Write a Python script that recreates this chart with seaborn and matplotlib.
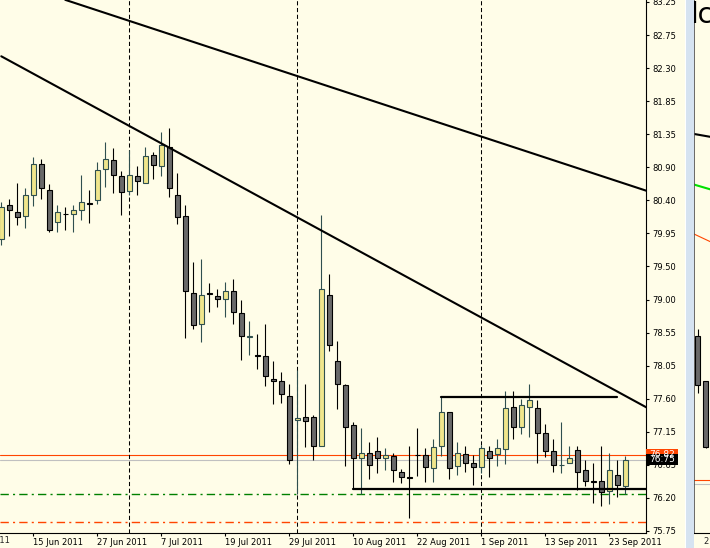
import numpy as np
import pandas as pd
import matplotlib
matplotlib.use("Agg")
import matplotlib.pyplot as plt
import matplotlib.patches as mpatches
import matplotlib.transforms as mtransforms
import seaborn as sns

# daily bars, weekdays 9 Jun 2011 .. 27 Sep 2011
start = "2011-06-09"
dates = pd.bdate_range(start, "2011-09-27")

opens = [79.89, 80.37, 80.27, 80.21, 80.51, 80.95, 80.59, 80.13, 80.25, 80.24,
         80.30, 80.40, 80.44, 80.88, 81.01, 80.78, 80.57, 80.78, 80.69, 81.08,
         80.92, 81.20, 80.51, 80.21, 79.12, 78.69, 79.12, 79.08, 79.04, 79.15,
         78.84, 78.50, 78.25, 78.23, 77.91, 77.87, 77.67, 77.32, 77.36, 77.36,
         76.96, 79.10, 78.16, 77.82, 77.25, 76.78, 76.85, 76.89, 76.78, 76.81,
         76.58, 76.52, 76.83, 76.82, 76.64, 76.95, 77.43, 76.67, 76.84, 76.71,
         76.65, 76.89, 76.84, 76.91, 77.51, 77.23, 77.51, 77.50, 77.14, 76.89,
         76.68, 76.72, 76.90, 76.61, 76.46, 76.46, 76.31, 76.54, 76.39]
highs = [80.42, 80.46, 80.69, 80.61, 81.05, 81.02, 80.67, 80.37, 80.34, 80.37,
         80.80, 80.59, 80.98, 81.26, 81.18, 80.85, 81.15, 80.92, 81.20, 81.12,
         81.40, 81.46, 80.82, 80.37, 79.56, 79.61, 79.26, 79.18, 79.28, 79.32,
         79.02, 78.73, 78.54, 78.68, 78.16, 78.01, 77.84, 78.03, 77.84, 77.39,
         80.23, 79.40, 78.45, 77.84, 77.30, 77.21, 77.01, 77.08, 76.92, 76.85,
         76.63, 76.95, 77.21, 76.92, 77.06, 77.65, 77.43, 77.01, 76.96, 76.82,
         76.97, 76.96, 77.06, 77.73, 77.73, 77.62, 77.84, 77.60, 77.27, 77.05,
         77.30, 76.96, 76.96, 76.75, 76.72, 76.96, 76.86, 76.75, 76.81]
lows = [79.80, 79.93, 80.09, 80.05, 80.36, 80.46, 79.99, 79.99, 80.02, 79.99,
        80.16, 80.12, 80.39, 80.63, 80.54, 80.23, 80.52, 80.52, 80.68, 80.74,
        80.78, 80.48, 80.10, 78.48, 78.62, 78.43, 78.86, 78.93, 78.79, 78.69,
        78.18, 78.25, 78.05, 77.81, 77.55, 77.57, 76.70, 76.27, 76.94, 76.75,
        76.95, 78.30, 77.48, 76.67, 76.34, 76.28, 76.48, 76.57, 76.61, 76.44,
        76.43, 75.93, 76.53, 76.44, 76.44, 76.81, 76.48, 76.55, 76.58, 76.40,
        76.57, 76.51, 76.67, 76.70, 77.05, 77.13, 77.08, 76.71, 76.80, 76.58,
        76.57, 76.72, 76.33, 76.39, 76.14, 76.11, 76.13, 76.23, 76.27]
closes = [80.35, 80.30, 80.20, 80.52, 80.95, 80.61, 80.01, 80.27, 80.24, 80.30,
          80.41, 80.39, 80.87, 81.02, 80.79, 80.55, 80.79, 80.71, 81.06, 80.94,
          81.22, 80.61, 80.20, 79.15, 78.67, 79.10, 79.11, 79.04, 79.15, 78.85,
          78.52, 78.52, 78.23, 77.94, 77.88, 77.69, 76.75, 77.35, 77.31, 76.96,
          79.18, 78.38, 77.83, 77.23, 76.78, 76.85, 76.68, 76.79, 76.82, 76.61,
          76.51, 76.50, 76.82, 76.65, 76.94, 77.43, 76.64, 76.85, 76.72, 76.65,
          76.92, 76.78, 76.92, 77.50, 77.22, 77.53, 77.60, 77.14, 76.89, 76.68,
          76.69, 76.78, 76.58, 76.46, 76.45, 76.30, 76.61, 76.40, 76.75]

# drawn objects: (bar index, price) anchors
trend_upper = ([8, 81], [83.28, 80.56])
trend_lower = ([0, 81], [82.48, 77.48])
resistance = ([55, 77], [77.65, 77.65])
support = ([44, 82], [76.34, 76.34])
level_green = 76.27
level_orange = 75.87
ask, bid = 76.82, 76.75

price_labels = ["75.75", "76.20", "76.65", "77.15", "77.60", "78.05", "78.55", "79.00",
                "79.50", "79.95", "80.40", "80.90", "81.35", "81.85", "82.30", "82.75", "83.25"]
date_ticks = ["2011-06-03", "2011-06-15", "2011-06-27", "2011-07-07", "2011-07-19", "2011-07-29",
              "2011-08-10", "2011-08-22", "2011-09-01", "2011-09-13", "2011-09-23"]
month_starts = ["2011-07-01", "2011-08-01", "2011-09-01"]

# second (partly hidden) chart window on the right
right_open = [78.51, 77.88]
right_high = [78.61, 77.88]
right_low = [77.71, 76.93]
right_close = [77.82, 76.94]
right_lines = {"black": [81.39, 81.33], "#00E000": [80.68, 80.58], "#FF4500": [79.99, 79.83]}
right_ask, right_bid = 76.47, 76.42

bg = "#FFFDE8"
bull_fill, bull_edge = "#F0E68C", "#2F4F4F"
bear_fill, bear_edge = "#696969", "black"

sns.set_theme(style="white")
plt.rcParams["font.family"] = ["DejaVu Sans"]

W, H = 710, 548
fig = plt.figure(figsize=(W / 100, H / 100), dpi=100)
fig.patch.set_facecolor(bg)
ax = fig.add_axes([0, 15 / H, 646 / W, 533 / H])
ax.set_facecolor(bg)

x = np.arange(len(dates))
o, hi, lo, c = map(np.array, (opens, highs, lows, closes))
up = c > o

# horizontal levels
ax.axhline(ask, color="#FF4500", lw=0.8, zorder=1)
ax.axhline(bid, color="#C0C0C0", lw=0.8, zorder=1)
ax.axhline(level_green, color="green", lw=1.0, dashes=(6, 3, 1.5, 3), zorder=1)
ax.axhline(level_orange, color="#FF4500", lw=1.0, dashes=(6, 3, 1.5, 3), zorder=1)

# month separators
for d in month_starts:
    ax.axvline(np.busday_count(start, d), color="black", lw=0.75, dashes=(4, 2.5), zorder=1)

# candles
ax.vlines(x[up], lo[up], hi[up], colors=bull_edge, lw=0.8, zorder=3)
ax.vlines(x[~up], lo[~up], hi[~up], colors=bear_edge, lw=0.8, zorder=3)
ax.bar(x[up], (c - o)[up], bottom=o[up], width=0.6, color=bull_fill,
       edgecolor=bull_edge, lw=0.8, zorder=4)
ax.bar(x[~up], (o - c)[~up], bottom=c[~up], width=0.6, color=bear_fill,
       edgecolor=bear_edge, lw=0.8, zorder=4)

# trend lines
for xs, ys in (trend_upper, trend_lower):
    sns.lineplot(x=xs, y=ys, ax=ax, color="black", lw=1.5, zorder=5)
for xs, ys in (resistance, support):
    sns.lineplot(x=xs, y=ys, ax=ax, color="black", lw=1.6, zorder=5)

ax.set_xlim(-0.16, 80.59)
ax.set_ylim(75.721, 83.278)

# price axis
ax.yaxis.tick_right()
ax.set_yticks(np.linspace(75.75, 83.25, len(price_labels)))
ax.set_yticklabels(price_labels)
ax.tick_params(axis="y", right=True, length=2.5, width=0.8, pad=2, labelsize=6,
               colors="black", direction="out")

# date axis
pos = [np.busday_count(start, d) for d in date_ticks]
lbls = [f"{pd.Timestamp(d).day} {pd.Timestamp(d):%b %Y}" for d in date_ticks]
ax.set_xticks([p for p in pos if p >= 0])
ax.set_xticklabels([l for p, l in zip(pos, lbls) if p >= 0], ha="left")
ax.tick_params(axis="x", bottom=True, length=2, width=0.8, pad=1.5, labelsize=6,
               colors="black", direction="out")
for p, l in zip(pos, lbls):
    if p < 0:
        ax.text(p - 0.5, -0.006, l, transform=ax.get_xaxis_transform(), ha="left", va="top",
                fontsize=6, clip_on=False)
ax.set_xlabel("")
ax.set_ylabel("")

for s in ("left", "top"):
    ax.spines[s].set_visible(False)
for s in ("right", "bottom"):
    ax.spines[s].set_color("black")
    ax.spines[s].set_linewidth(0.8)

# price labels at the axis
trans = mtransforms.blended_transform_factory(ax.transAxes, ax.transData)
bw = 32 / 646
bh = 11 * (83.278 - 75.721) / 533
for price, face in ((ask, "#FF4500"), (bid, "black")):
    yc = price + 0.012
    ax.add_patch(mpatches.Rectangle((1.0, yc - bh / 2), bw, bh, transform=trans,
                                    facecolor=face, edgecolor="none", clip_on=False, zorder=10))
    ax.text(1.0 + bw / 2, yc, f"{price:.2f}", transform=trans, ha="center", va="center",
            color="white", fontsize=6.5, clip_on=False, zorder=11)

# window splitter
fig.add_artist(mpatches.Rectangle((685 / W, 0), 1 / W, 1, transform=fig.transFigure,
                                  facecolor="white", edgecolor="none"))
fig.add_artist(mpatches.Rectangle((686 / W, 0), 8 / W, 1, transform=fig.transFigure,
                                  facecolor="#D6E3F1", edgecolor="none"))

# right chart window
ax2 = fig.add_axes([694 / W, 15 / H, 16 / W, 533 / H])
ax2.set_facecolor(bg)
rx = np.arange(len(right_open))
ax2.axhline(right_ask, color="#FF4500", lw=0.8, zorder=1)
ax2.axhline(right_bid, color="#C0C0C0", lw=0.8, zorder=1)
ax2.vlines(rx, right_low, right_high, colors="black", lw=0.8, zorder=3)
ax2.bar(rx, np.array(right_open) - np.array(right_close), bottom=right_close, width=0.6,
        color=bear_fill, edgecolor="black", lw=0.8, zorder=4)
for col, ys in right_lines.items():
    sns.lineplot(x=[-1, 2], y=ys, ax=ax2, color=col, lw=1.5 if col != "#FF4500" else 0.8)
ax2.set_xlim(-0.4375, 1.5625)
ax2.set_ylim(75.721, 83.278)
ax2.set_xticks([])
ax2.set_yticks([])
ax2.set_xlabel("")
ax2.set_ylabel("")
ax2.text(-2.15, 82.95, "dc", fontsize=20, color="black", va="baseline", ha="left", clip_on=True)
for s in ("top", "right"):
    ax2.spines[s].set_visible(False)
ax2.spines["left"].set_color("#505050")
ax2.spines["left"].set_linewidth(1.2)
ax2.spines["bottom"].set_color("black")
ax2.spines["bottom"].set_linewidth(0.8)
fig.text(704 / W, 1 - 537 / H, "27 Sep 2011", fontsize=6, ha="left", va="top")

fig.savefig("out.png", dpi=100, facecolor=bg)
